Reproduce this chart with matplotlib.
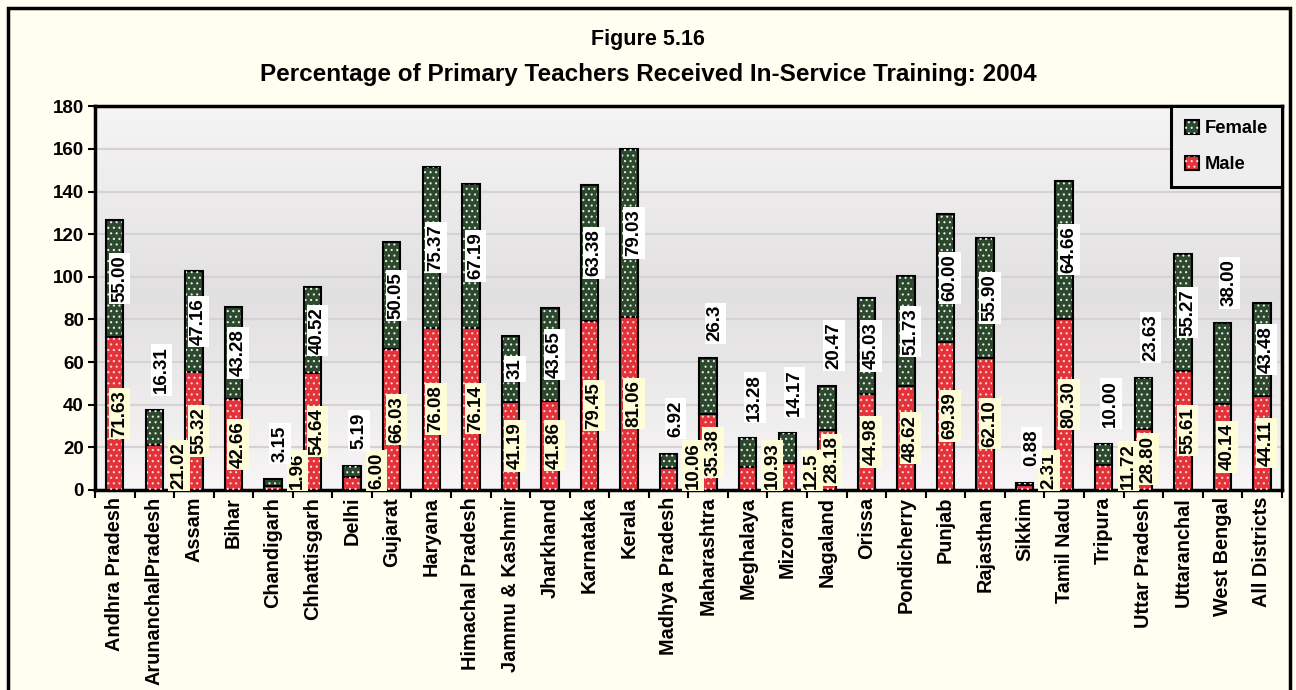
import numpy as np
import matplotlib.pyplot as plt
import matplotlib.patches as mpatches

plt.rcParams['font.family'] = ['Liberation Sans', 'DejaVu Sans']
plt.rcParams['font.weight'] = 'bold'
plt.rcParams['hatch.linewidth'] = 0.8

# --- Data ---
states = ["Andhra Pradesh", "ArunanchalPradesh", "Assam", "Bihar", "Chandigarh",
          "Chhattisgarh", "Delhi", "Gujarat", "Haryana", "Himachal Pradesh",
          "Jammu & Kashmir", "Jharkhand", "Karnataka", "Kerala", "Madhya Pradesh",
          "Maharashtra", "Meghalaya", "Mizoram", "Nagaland", "Orissa",
          "Pondicherry", "Punjab", "Rajasthan", "Sikkim", "Tamil Nadu",
          "Tripura", "Uttar Pradesh", "Uttaranchal", "West Bengal", "All Districts"]
male = [71.63, 21.02, 55.32, 42.66, 1.96, 54.64, 6.00, 66.03, 76.08, 76.14,
        41.19, 41.86, 79.45, 81.06, 10.06, 35.38, 10.93, 12.5, 28.18, 44.98,
        48.62, 69.39, 62.10, 2.31, 80.30, 11.72, 28.80, 55.61, 40.14, 44.11]
female = [55.00, 16.31, 47.16, 43.28, 3.15, 40.52, 5.19, 50.05, 75.37, 67.19,
          31, 43.65, 63.38, 79.03, 6.92, 26.3, 13.28, 14.17, 20.47, 45.03,
          51.73, 60.00, 55.90, 0.88, 64.66, 10.00, 23.63, 55.27, 38.00, 43.48]
male_txt = ["71.63", "21.02", "55.32", "42.66", "1.96", "54.64", "6.00", "66.03", "76.08", "76.14",
            "41.19", "41.86", "79.45", "81.06", "10.06", "35.38", "10.93", "12.5", "28.18", "44.98",
            "48.62", "69.39", "62.10", "2.31", "80.30", "11.72", "28.80", "55.61", "40.14", "44.11"]
female_txt = ["55.00", "16.31", "47.16", "43.28", "3.15", "40.52", "5.19", "50.05", "75.37", "67.19",
              "31", "43.65", "63.38", "79.03", "6.92", "26.3", "13.28", "14.17", "20.47", "45.03",
              "51.73", "60.00", "55.90", "0.88", "64.66", "10.00", "23.63", "55.27", "38.00", "43.48"]

RED = "#E4323A"
GREEN = "#2C482D"
DOT_M = "#F8D8D8"
DOT_F = "#E6ECE6"

fig = plt.figure(figsize=(12.96, 6.9), dpi=100, facecolor="#FFFEF0")
ax = fig.add_axes([0.0733, 0.29, 0.9157, 0.556])

# gradient background of plot area
grad = np.concatenate([np.linspace(0.965, 0.885, 50), np.linspace(0.885, 0.97, 50)])
img = np.stack([grad, grad * 0.993, grad * 0.993], axis=-1)[:, None, :].repeat(2, axis=1)
ax.imshow(img, extent=[0, 1, 0, 1], transform=ax.transAxes, aspect="auto", zorder=0)

x = np.arange(len(states))
w = 0.44
male = np.array(male)
female = np.array(female)

# base bars with black edge, then dotted hatch layer
ax.bar(x, male, w, color=RED, edgecolor="black", lw=1.5, zorder=3)
ax.bar(x, female, w, bottom=male, color=GREEN, edgecolor="black", lw=1.5, zorder=3)
ax.bar(x, male, w * 0.85, facecolor="none", edgecolor=DOT_M, hatch="...", lw=0, zorder=4)
ax.bar(x, female, w * 0.85, bottom=male, facecolor="none", edgecolor=DOT_F, hatch="...", lw=0, zorder=4)

ax.set_xlim(-0.5, len(states) - 0.5)
ax.set_ylim(0, 180)
ax.set_yticks(np.arange(0, 181, 20))
ax.yaxis.grid(True, color="#D4D2D2", lw=1.5, zorder=1)
ax.set_axisbelow(True)

ax.set_xticks(x)
ax.set_xticklabels(states, rotation=90, fontsize=14.3, fontweight="bold")
ax.tick_params(axis="x", length=0, pad=5)
ax.set_xticks(np.arange(-0.5, len(states), 1), minor=True)
ax.tick_params(axis="x", which="minor", length=6, width=1.5, direction="out")
ax.tick_params(axis="y", length=5, width=1.5, labelsize=13.5, pad=3)
for lab in ax.get_yticklabels():
    lab.set_fontweight("bold")
for s in ax.spines.values():
    s.set_linewidth(2.5)

# --- Labels ---
def units(t):
    return 4.6 * len(t) + 4

box_m = dict(boxstyle="square,pad=0.12", fc="#FFFCD8", ec="none")
box_f = dict(boxstyle="square,pad=0.12", fc="white", ec="none")
for i in range(len(states)):
    m, f = male[i], female[i]
    if m >= units(male_txt[i]):
        ax.text(i + 0.12, m / 2, male_txt[i], rotation=90, ha="center", va="center",
                fontsize=13.5, fontweight="bold", zorder=6, bbox=box_m)
    else:
        ax.text(i + 0.62, 0.5, male_txt[i], rotation=90, ha="center", va="bottom",
                fontsize=13.5, fontweight="bold", zorder=6, bbox=box_m)
    if f >= 1.45 * units(female_txt[i]):
        ax.text(i + 0.12, m + f / 2, female_txt[i], rotation=90, ha="center", va="center",
                fontsize=13.5, fontweight="bold", zorder=6, bbox=box_f)
    else:
        ax.text(i + 0.18, m + f + 8, female_txt[i], rotation=90, ha="center", va="bottom",
                fontsize=13.5, fontweight="bold", zorder=6, bbox=box_f)

# --- Legend ---
hf = (mpatches.Patch(facecolor=GREEN, edgecolor="black", lw=1.5),
      mpatches.Patch(facecolor="none", edgecolor=DOT_F, hatch="...", lw=0))
hm = (mpatches.Patch(facecolor=RED, edgecolor="black", lw=1.5),
      mpatches.Patch(facecolor="none", edgecolor=DOT_M, hatch="...", lw=0))
leg = ax.legend([hf, hm], ["Female", "Male"], loc="upper right", borderaxespad=0,
                prop=dict(size=13.2, weight="bold"), handlelength=0.8, handleheight=0.8,
                handletextpad=0.3, labelspacing=1.0, borderpad=0.75, fancybox=False,
                framealpha=1, facecolor="#EEEEEE", edgecolor="black")
leg.get_frame().set_linewidth(2.2)
leg.set_zorder(10)

# --- Titles and outer frame ---
fig.text(0.5, 1 - 40 / 690, "Figure 5.16", ha="center", va="center", fontsize=15.5, fontweight="bold")
fig.text(0.5, 1 - 75 / 690, "Percentage of Primary Teachers Received In-Service Training: 2004",
         ha="center", va="center", fontsize=17.5, fontweight="bold")
fig.patches.append(mpatches.Rectangle((8 / 1296, -0.02), 1282 / 1296, 1.02 - 8 / 690,
                                      transform=fig.transFigure, fill=False,
                                      ec="black", lw=2.5))

fig.savefig("out.png", dpi=100, facecolor=fig.get_facecolor())
